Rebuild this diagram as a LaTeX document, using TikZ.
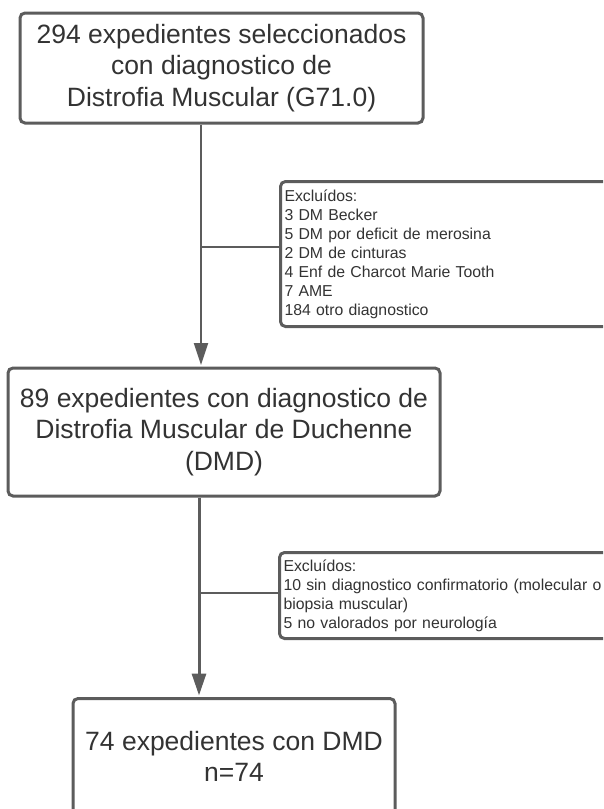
\documentclass[tikz,border=0pt]{standalone}
\usepackage{fontspec}
\setmainfont{Liberation Sans}
\usetikzlibrary{arrows.meta}
\definecolor{txt}{HTML}{333333}
\definecolor{edge}{HTML}{5C5C5C}
\begin{document}
\begin{tikzpicture}[x=1pt,y=-1pt,
  mainbox/.style={draw=edge, line width=3pt, rounded corners=5pt, fill=white,
    text=txt, align=center, inner sep=0pt,
    font=\fontsize{26.5pt}{31.5pt}\selectfont},
  exbox/.style={draw=edge, line width=3pt, rounded corners=5pt, fill=white,
    text=txt, align=left, anchor=north west, inner xsep=4pt, inner ysep=0pt,
    text width=340pt, font=\fontsize{15.8pt}{19pt}\selectfont},
  conn/.style={draw=edge, line width=2pt},
  arr/.style={-{Triangle[length=22pt,width=14pt]}}]
\useasboundingbox (0,0) rectangle (603,809);
\clip (0,0) rectangle (603,809);

\node[mainbox, minimum width=403pt, minimum height=110pt] (b1) at (221.5,68)
  {294 expedientes seleccionados\\con diagnostico de\\Distrofia Muscular (G71.0)};
\node[mainbox, minimum width=432pt, minimum height=128pt] (b2) at (224,432)
  {89 expedientes con diagnostico de\\Distrofia Muscular de Duchenne\\(DMD)};
\node[mainbox, minimum width=322pt, minimum height=116pt, anchor=north] (b3) at (234,697)
  {74 expedientes con DMD\\n=74};

\node[exbox, minimum height=145pt] (e1) at (279,180)
  {Excluídos:\\3 DM Becker\\5 DM por deficit de merosina\\2 DM de cinturas\\4 Enf de Charcot Marie Tooth\\7 AME\\184 otro diagnostico};
\node[exbox, minimum height=86pt] (e2) at (278,551)
  {Excluídos:\\10 sin diagnostico confirmatorio (molecular o\\biopsia muscular)\\5 no valorados por neurología};

\coordinate (v1) at (201,0);
\coordinate (v2) at (199,0);
\coordinate (j1) at (201,247);
\coordinate (j2) at (199,593);

\draw[conn, arr, shorten >=1.5pt] (b1.south -| v1) -- (b2.north -| v1);
\draw[conn] (j1) -- (j1 -| e1.west);
\draw[conn, line width=3pt, arr, shorten >=1.5pt] (b2.south -| v2) -- (b3.north -| v2);
\draw[conn] (j2) -- (j2 -| e2.west);
\end{tikzpicture}
\end{document}
